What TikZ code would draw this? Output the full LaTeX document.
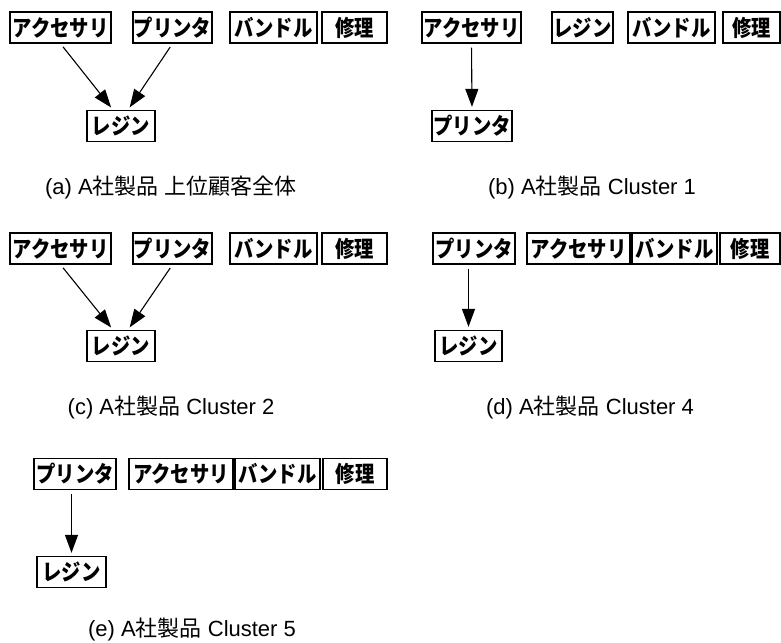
\documentclass[tikz,border=0pt]{standalone}
\usepackage{fontspec}
\setmainfont{Liberation Sans}
\newfontfamily\jp{Noto Sans CJK JP}
\newfontfamily\jpbox[FakeStretch=0.86]{Noto Sans CJK JP}
\usetikzlibrary{arrows.meta}
\tikzset{
  box/.style={draw, line width=1.3pt, minimum height=31pt, inner sep=0pt,
    font=\jpbox\bfseries\fontsize{22.5}{22.5}\selectfont},
  arr/.style={line width=1.1pt, -{Triangle[length=18pt,width=13pt]},
    shorten <=4pt, shorten >=3pt},
  captext/.style={font=\fontsize{22}{22}\selectfont, inner sep=0pt}
}
\begin{document}
\begin{tikzpicture}[x=1pt,y=-1pt]
\useasboundingbox (0,0) rectangle (781,642);
% (a)
\node[box, minimum width=101pt] (aacc) at (60.5,27.5) {アクセサリ};
\node[box, minimum width=79pt] (apri) at (172.5,27.5) {プリンタ};
\node[box, minimum width=87pt] (aban) at (273.5,27.5) {バンドル};
\node[box, minimum width=65pt] (ashu) at (354.5,27.5) {修理};
\node[box, minimum width=68pt] (ares) at (121,126) {レジン};
\draw[arr] (aacc.south) -- ([xshift=-8pt]ares.north);
\draw[arr] (apri.south) -- ([xshift=7pt]ares.north);
\node[captext] (acap) at (171,188) {(a) A{\jp 社製品} {\jp 上位顧客全体}};
% (b)
\node[box, minimum width=99pt] (bacc) at (471.5,27.5) {アクセサリ};
\node[box, minimum width=61pt] (bres) at (582.5,27.5) {レジン};
\node[box, minimum width=87pt] (bban) at (671.5,27.5) {バンドル};
\node[box, minimum width=57pt] (bshu) at (751.5,27.5) {修理};
\node[box, minimum width=80pt] (bpri) at (472,126) {プリンタ};
\draw[arr] (bacc.south) -- (bpri.north);
\node[captext] (bcap) at (592,188) {(b) A{\jp 社製品} Cluster 1};
% (c)
\node[box, minimum width=101pt] (cacc) at (60.5,248.5) {アクセサリ};
\node[box, minimum width=79pt] (cpri) at (172.5,248.5) {プリンタ};
\node[box, minimum width=87pt] (cban) at (273.5,248.5) {バンドル};
\node[box, minimum width=65pt] (cshu) at (354.5,248.5) {修理};
\node[box, minimum width=68pt] (cres) at (121,346) {レジン};
\draw[arr] (cacc.south) -- ([xshift=-8pt]cres.north);
\draw[arr] (cpri.south) -- ([xshift=7pt]cres.north);
\node[captext] (ccap) at (171,408) {(c) A{\jp 社製品} Cluster 2};
% (d)
\node[box, minimum width=82pt] (dpri) at (474,248.5) {プリンタ};
\node[box, minimum width=103pt] (dacc) at (578.5,248.5) {アクセサリ};
\node[box, minimum width=85pt] (dban) at (674.5,248.5) {バンドル};
\node[box, minimum width=60pt] (dshu) at (750,248.5) {修理};
\node[box, minimum width=67pt] (dres) at (468.5,346) {レジン};
\draw[arr] (dres.north |- dpri.south) -- (dres.north);
\node[captext] (dcap) at (590,408) {(d) A{\jp 社製品} Cluster 4};
% (e)
\node[box, minimum width=82pt] (epri) at (75,474) {プリンタ};
\node[box, minimum width=104pt] (eacc) at (181,474) {アクセサリ};
\node[box, minimum width=85pt] (eban) at (277.5,474) {バンドル};
\node[box, minimum width=64pt] (eshu) at (355,474) {修理};
\node[box, minimum width=69pt] (eres) at (71.5,572) {レジン};
\draw[arr] (eres.north |- epri.south) -- (eres.north);
\node[captext] (ecap) at (192,630) {(e) A{\jp 社製品} Cluster 5};
\end{tikzpicture}
\end{document}
